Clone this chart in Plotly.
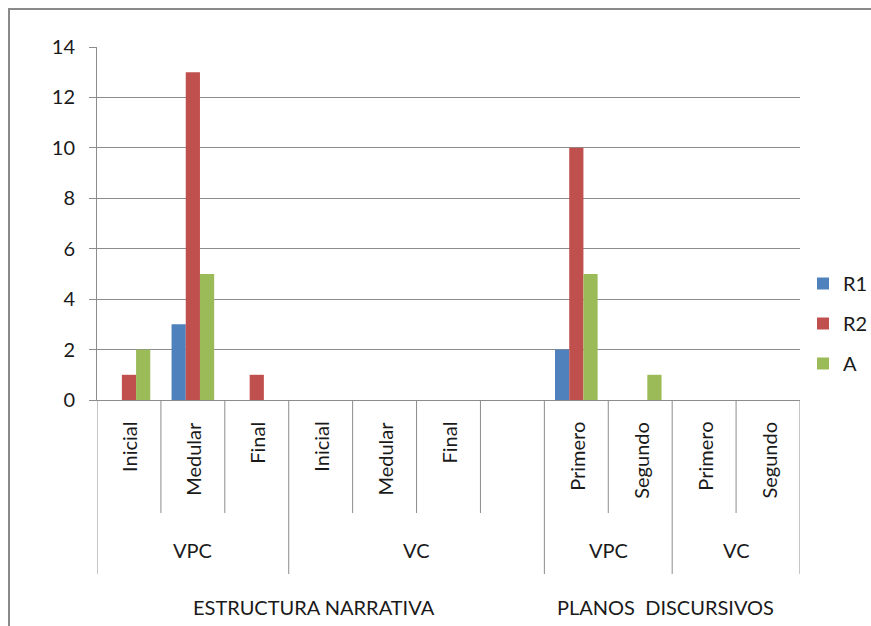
import plotly.graph_objects as go

# Category structure (three levels) and series values
level1 = ["Inicial", "Medular", "Final", "Inicial", "Medular", "Final", "",
          "Primero", "Segundo", "Primero", "Segundo"]
level2 = ["VPC", "VPC", "VPC", "VC", "VC", "VC", "VC",
          "VPC", "VPC", "VC", "VC"]
level3 = ["ESTRUCTURA NARRATIVA"] * 7 + ["PLANOS\u00a0\u00a0DISCURSIVOS"] * 4

series_names = ["R1", "R2", "A"]
r1 = [0, 3, 0, 0, 0, 0, None, 2, 0, 0, 0]
r2 = [1, 13, 1, 0, 0, 0, None, 10, 0, 0, 0]
a = [2, 5, 0, 0, 0, 0, None, 5, 1, 0, 0]
series_values = [r1, r2, a]
series_colors = ["#4F81BD", "#C0504D", "#9BBB59"]

y_ticks = [0, 2, 4, 6, 8, 10, 12, 14]

# Page geometry (pixels)
W, H = 871, 626
PLOT_L, PLOT_R, PLOT_T, PLOT_B = 97, 800, 47, 400
FONT = "Lato"
FS = 20
TXT = "#1a1a1a"
GRID = "#8c8c8c"


def py(p):
    """pixel row -> paper y"""
    return (PLOT_B - p) / (PLOT_B - PLOT_T)


def px(p):
    """pixel column -> paper x"""
    return (p - PLOT_L) / (PLOT_R - PLOT_L)


xs = list(range(len(level1)))

fig = go.Figure()
for name, vals, col in zip(series_names, series_values, series_colors):
    fig.add_trace(go.Bar(
        x=xs, y=vals, name=name, marker=dict(color=col, line=dict(width=0)),
        legendgroup=name,
    ))


def spans(labels):
    out = []
    start = 0
    for i in range(1, len(labels) + 1):
        if i == len(labels) or labels[i] != labels[start]:
            out.append((start, i - 1, labels[start]))
            start = i
    return out


shapes = []
annotations = []

# level-1 labels (rotated) and short dividers
for i, lab in enumerate(level1):
    if lab:
        annotations.append(dict(
            x=i, y=py(420), xref="x", yref="paper", text=lab, textangle=-90,
            showarrow=False, xanchor="center", yanchor="top",
            font=dict(family=FONT, size=FS, color=TXT),
        ))

group_edges = set()
for s, e, lab in spans(level2):
    group_edges.add(s - 0.5)
    group_edges.add(e + 0.5)
    annotations.append(dict(
        x=(s + e) / 2, y=py(550), xref="x", yref="paper", text=lab,
        showarrow=False, xanchor="center", yanchor="middle",
        font=dict(family=FONT, size=FS, color=TXT),
    ))

for k in range(len(level1) + 1):
    edge = k - 0.5
    bottom = 574 if edge in group_edges else 513
    shapes.append(dict(
        type="line", xref="x", yref="paper", x0=edge, x1=edge,
        y0=py(PLOT_B), y1=py(bottom), line=dict(color=GRID, width=1),
    ))

for s, e, lab in spans(level3):
    annotations.append(dict(
        x=(s + e) / 2 - 0.1, y=py(607), xref="x", yref="paper", text=lab,
        showarrow=False, xanchor="center", yanchor="middle",
        font=dict(family=FONT, size=FS, color=TXT),
    ))

# outer chart border (top and left edges visible)
shapes.append(dict(
    type="rect", xref="paper", yref="paper",
    x0=px(9), x1=px(W + 20), y0=py(9), y1=py(H + 20),
    line=dict(color="#8a8a8a", width=2), fillcolor="rgba(0,0,0,0)", layer="above",
))

fig.update_layout(
    width=W, height=H,
    margin=dict(l=PLOT_L, r=W - PLOT_R, t=PLOT_T, b=H - PLOT_B, pad=0,
                autoexpand=False),
    paper_bgcolor="white", plot_bgcolor="white",
    barmode="group", bargap=1.5 / 4.5, bargroupgap=0,
    font=dict(family=FONT, size=FS, color=TXT),
    showlegend=True,
    legend=dict(
        x=px(803), y=py(264), xanchor="left", yanchor="top",
        font=dict(family=FONT, size=FS, color=TXT),
        tracegroupgap=11, bgcolor="rgba(0,0,0,0)",
        traceorder="grouped", itemwidth=30,
    ),
    xaxis=dict(
        type="linear", range=[-0.5, len(level1) - 0.5],
        showticklabels=False, showgrid=False, zeroline=False,
        showline=True, linecolor=GRID, linewidth=1, ticks="",
        fixedrange=True,
    ),
    yaxis=dict(
        range=[0, 14], tickvals=y_ticks, showgrid=True, gridcolor=GRID,
        gridwidth=1, zeroline=False, showline=True, linecolor=GRID,
        linewidth=1, ticks="outside", ticklen=7, tickcolor=GRID,
        ticklabelstandoff=10, tickfont=dict(family=FONT, size=FS, color=TXT),
        fixedrange=True,
    ),
    shapes=shapes,
    annotations=annotations,
)

fig.write_html("out.html")
